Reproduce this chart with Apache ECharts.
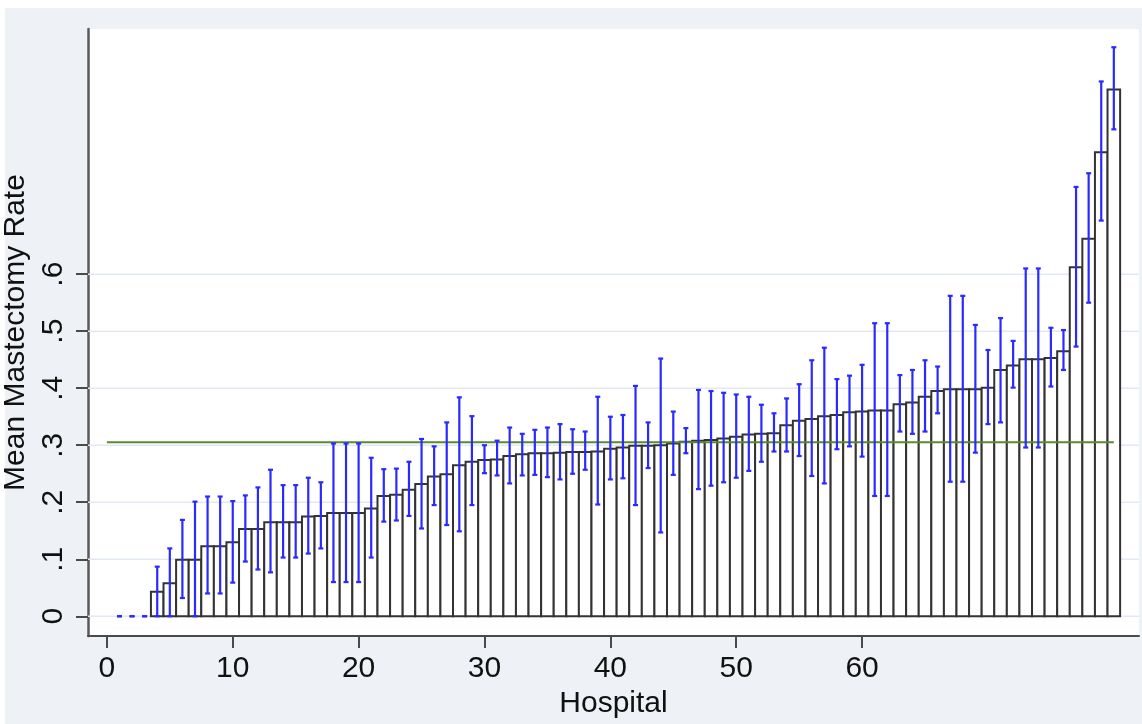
<!DOCTYPE html>
<html><head><meta charset="utf-8">
<script src="https://cdn.jsdelivr.net/npm/echarts@6/dist/echarts.min.js"></script>
<style>
html,body{margin:0;padding:0;background:#fff;}
#bg{position:absolute;left:5px;top:8px;width:1137px;height:716px;background:#eef1f6;}
#c{position:absolute;left:0;top:0;width:1142px;height:724px;}
</style>
</head><body><div id="bg"></div><div id="c"></div>
<script>
const hospitals = [1,2,3,4,5,6,7,8,9,10,11,12,13,14,15,16,17,18,19,20,21,22,23,24,25,26,27,28,29,30,31,32,33,34,35,36,37,38,39,40,41,42,43,44,45,46,47,48,49,50,51,52,53,54,55,56,57,58,59,60,61,62,63,64,65,66,67,68,69,70,71,72,73,74,75,76,77,78,79,80];
const meanRate = [0,0,0,0.043,0.058,0.099,0.099,0.123,0.123,0.130,
  0.153,0.153,0.165,0.165,0.165,0.175,0.176,0.181,0.181,0.181,
  0.189,0.211,0.213,0.222,0.232,0.245,0.249,0.265,0.271,0.274,
  0.275,0.281,0.284,0.286,0.286,0.287,0.288,0.288,0.289,0.294,
  0.296,0.299,0.299,0.300,0.303,0.306,0.308,0.309,0.312,0.315,
  0.319,0.320,0.321,0.335,0.343,0.346,0.351,0.353,0.358,0.359,
  0.361,0.361,0.372,0.375,0.385,0.395,0.398,0.398,0.398,0.401,
  0.432,0.440,0.451,0.451,0.453,0.465,0.612,0.662,0.814,0.924];
const ciLow = [0,0,0,0,0,0.032,0,0.040,0.040,0.059,
  0.096,0.082,0.077,0.103,0.103,0.110,0.119,0.060,0.060,0.060,
  0.103,0.166,0.168,0.176,0.154,0.195,0.160,0.149,0.195,0.251,
  0.247,0.233,0.247,0.248,0.244,0.240,0.250,0.257,0.196,0.240,
  0.242,0.195,0.260,0.147,0.248,0.286,0.223,0.229,0.235,0.243,
  0.255,0.271,0.289,0.289,0.281,0.246,0.233,0.293,0.298,0.280,
  0.211,0.211,0.324,0.320,0.324,0.356,0.236,0.236,0.287,0.337,
  0.340,0.401,0.296,0.296,0.403,0.432,0.473,0.550,0.694,0.854];
const ciHigh = [0,0,0,0.087,0.119,0.169,0.201,0.210,0.210,0.202,
  0.212,0.226,0.257,0.230,0.230,0.243,0.235,0.303,0.303,0.303,
  0.278,0.258,0.259,0.271,0.311,0.298,0.340,0.384,0.351,0.300,
  0.308,0.331,0.320,0.327,0.331,0.337,0.328,0.324,0.385,0.350,
  0.353,0.404,0.340,0.452,0.359,0.330,0.397,0.395,0.392,0.389,
  0.385,0.371,0.356,0.382,0.407,0.449,0.471,0.416,0.422,0.441,
  0.514,0.514,0.423,0.432,0.449,0.438,0.562,0.562,0.511,0.467,
  0.523,0.483,0.610,0.610,0.506,0.502,0.753,0.777,0.938,0.998];
const overallMean = 0.305;
const refRange = [0, 80];
const xTicks = [0,10,20,30,40,50,60];
const yTicks = [0,0.1,0.2,0.3,0.4,0.5,0.6];
const xTitle = 'Hospital';
const yTitle = 'Mean Mastectomy Rate';

const FONT = '"Liberation Sans", Arial, sans-serif';
const TXT = '#111';
const chart = echarts.init(document.getElementById('c'), null, {renderer:'canvas'});
const barData = hospitals.map((h,i)=>[h, meanRate[i]]);
const errData = hospitals.map((h,i)=>[h, ciLow[i], ciHigh[i]]);
const gridData = yTicks.map(v=>[0, v]);

const option = {
  animation:false,
  backgroundColor:'transparent',
  grid:{left:88,right:3,top:29,bottom:88,show:true,backgroundColor:'#fff',borderWidth:0,
    containLabel:false,outerBoundsMode:'none'},
  xAxis:{type:'value',min:-1.5,max:82,name:xTitle,nameLocation:'middle',nameGap:44,
    nameTextStyle:{fontFamily:FONT,fontSize:30,color:TXT},
    axisLine:{show:true,onZero:false,lineStyle:{color:'#4a4a4a',width:2}},
    axisTick:{show:true,length:12,customValues:xTicks,lineStyle:{color:'#4a4a4a',width:2}},
    axisLabel:{customValues:xTicks,fontFamily:FONT,fontSize:30,color:TXT,margin:18},
    splitLine:{show:false}},
  yAxis:{type:'value',min:-0.0346,max:1.03,name:yTitle,nameLocation:'middle',nameGap:45,
    nameTextStyle:{fontFamily:FONT,fontSize:30,color:TXT},
    axisLine:{show:true,onZero:false,lineStyle:{color:'#5a5a5a',width:2.5}},
    axisTick:{show:true,length:12,customValues:yTicks,lineStyle:{color:'#4a4a4a',width:2}},
    axisLabel:{customValues:yTicks,rotate:90,fontFamily:FONT,fontSize:30,color:TXT,margin:19,
      formatter:v=> (Math.abs(v)<1e-9 ? '0' : '.'+Math.round(v*10))},
    splitLine:{show:false}},
  series:[
    {type:'custom',z:1,silent:true,data:gridData,encode:{x:0,y:1},
     renderItem:(params,api)=>{
       const cs=params.coordSys; const y=api.coord([0,api.value(1)])[1];
       return {type:'line',shape:{x1:cs.x,y1:y,x2:cs.x+cs.width,y2:y},style:{stroke:'#e2e9f4',lineWidth:1.5}};
     }},
    {type:'custom',z:2,silent:true,data:barData,encode:{x:0,y:1},
     renderItem:(params,api)=>{
       const x=api.value(0), v=api.value(1);
       if(!(v>0)) return null;
       const p0=api.coord([x-0.5,v]), p1=api.coord([x+0.5,0]);
       return {type:'rect',shape:{x:p0[0],y:p0[1],width:p1[0]-p0[0],height:p1[1]-p0[1]},
         style:{fill:'#fff',stroke:'#333',lineWidth:2}};
     }},
    {type:'line',z:3,silent:true,symbol:'none',data:[[refRange[0],overallMean],[refRange[1],overallMean]],
     lineStyle:{color:'#5b8a2c',width:2}},
    {type:'custom',z:4,silent:true,data:errData,encode:{x:0,y:[1,2]},
     renderItem:(params,api)=>{
       const x=api.value(0);
       const lo=api.coord([x,api.value(1)]), hi=api.coord([x,api.value(2)]);
       const c=2.5, st={stroke:'#2a2aff',lineWidth:2.2};
       return {type:'group',children:[
         {type:'line',shape:{x1:lo[0],y1:lo[1],x2:hi[0],y2:hi[1]},style:st},
         {type:'line',shape:{x1:lo[0]-c,y1:lo[1],x2:lo[0]+c,y2:lo[1]},style:st},
         {type:'line',shape:{x1:hi[0]-c,y1:hi[1],x2:hi[0]+c,y2:hi[1]},style:st}
       ]};
     }}
  ]
};
chart.setOption(option);
</script>
</body></html>
